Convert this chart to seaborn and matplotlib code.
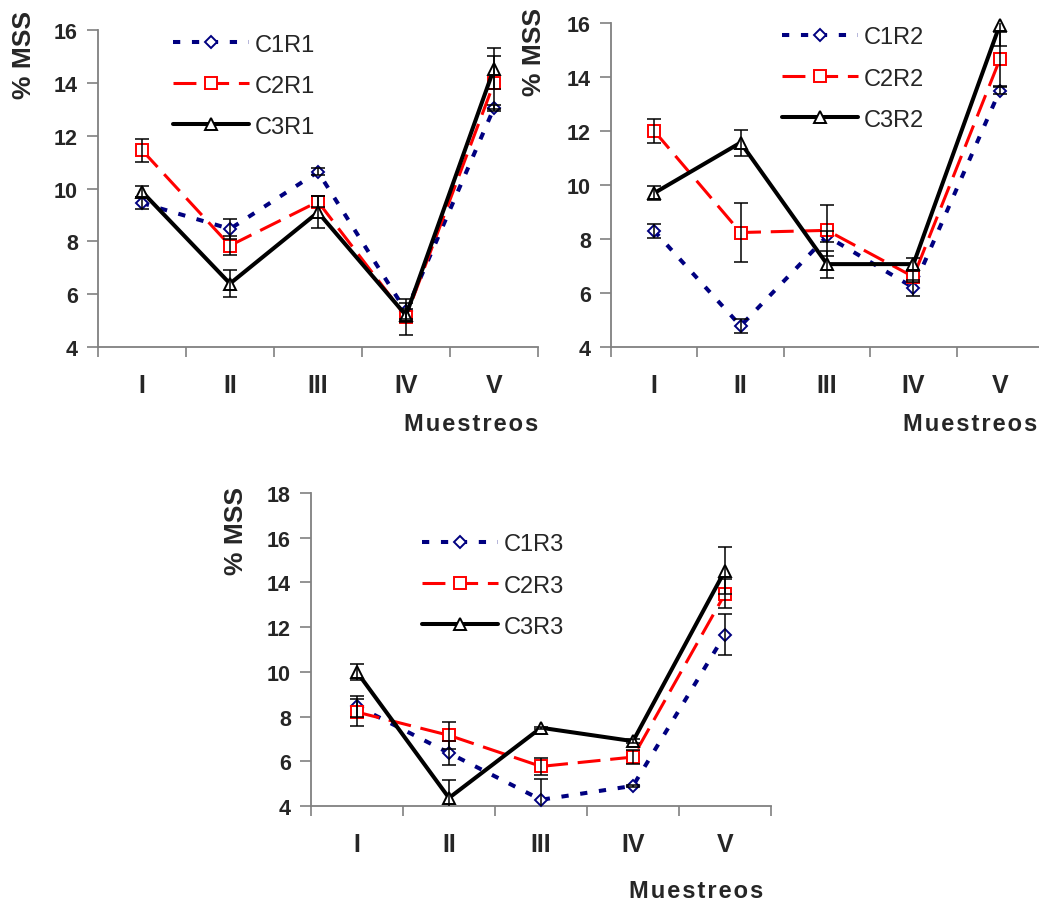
import numpy as np
import matplotlib
matplotlib.use("Agg")
import matplotlib.pyplot as plt
import seaborn as sns

# ---------------- data ----------------
muestreos = ["I", "II", "III", "IV", "V"]

labels_r1 = ["C1R1", "C2R1", "C3R1"]
c1r1 = [9.45, 8.47, 10.63, 5.35, 13.05]
c2r1 = [11.45, 7.84, 9.50, 5.15, 14.00]
c3r1 = [9.88, 6.40, 9.10, 5.20, 14.54]
c1r1_err = [0.23, 0.38, 0.13, 0.30, 0.10]
c2r1_err = [0.44, 0.35, 0.20, 0.68, 1.00]
c3r1_err = [0.22, 0.50, 0.60, 0.25, 0.79]

labels_r2 = ["C1R2", "C2R2", "C3R2"]
c1r2 = [8.30, 4.78, 8.10, 6.20, 13.50]
c2r2 = [12.00, 8.24, 8.32, 6.60, 14.65]
c3r2 = [9.70, 11.57, 7.07, 7.07, 15.93]
c1r2_err = [0.27, 0.25, 0.20, 0.30, 0.12]
c2r2_err = [0.43, 1.08, 0.95, 0.20, 1.00]
c3r2_err = [0.27, 0.48, 0.50, 0.22, 0.77]

labels_r3 = ["C1R3", "C2R3", "C3R3"]
c1r3 = [8.47, 6.37, 4.28, 4.90, 11.67]
c2r3 = [8.20, 7.16, 5.77, 6.19, 13.49]
c3r3 = [9.99, 4.36, 7.50, 6.90, 14.53]
c1r3_err = [0.47, 0.52, 0.94, 0.05, 0.90]
c2r3_err = [0.60, 0.59, 0.37, 0.30, 0.65]
c3r3_err = [0.37, 0.79, 0.05, 0.10, 1.05]

y_ticks_12 = [4, 6, 8, 10, 12, 14, 16]
y_ticks_3 = [4, 6, 8, 10, 12, 14, 16, 18]

ylabel_text = "% MSS"
xlabel_text = "Muestreos"

# ---------------- style ----------------
sns.set_theme(style="white")
plt.rcParams["font.family"] = ["Liberation Sans", "DejaVu Sans"]

W, H = 1039, 903
fig = plt.figure(figsize=(W / 100, H / 100), dpi=100)
fig.patch.set_facecolor("white")


def px_axes(left, right, top, bottom):
    return fig.add_axes([left / W, 1 - bottom / H, (right - left) / W, (bottom - top) / H])


styles = [
    dict(color="#000080", marker="D", ms=5.8, lw=2.9, ls=(0, (1.8, 2.9))),
    dict(color="#FF0000", marker="s", ms=8.0, lw=2.2, ls=(0, (7.5, 3.2))),
    dict(color="#000000", marker="^", ms=8.5, lw=2.9, ls="-"),
]

GRAY = "#808080"

panels = [
    dict(box=(98, 538, 31, 348), ylim=(4, 16), yt=y_ticks_12,
         series=[c1r1, c2r1, c3r1], errs=[c1r1_err, c2r1_err, c3r1_err], labels=labels_r1,
         leg=(173, 34.5), ylab=(24, 55), xlab=(538, 425, "right")),
    dict(box=(611, 1043, 24, 348), ylim=(4, 16), yt=y_ticks_12,
         series=[c1r2, c2r2, c3r2], errs=[c1r2_err, c2r2_err, c3r2_err], labels=labels_r2,
         leg=(782, 27.5), ylab=(534, 52), xlab=(1037, 425, "right")),
    dict(box=(311, 771, 494, 807), ylim=(4, 18), yt=y_ticks_3,
         series=[c1r3, c2r3, c3r3], errs=[c1r3_err, c2r3_err, c3r3_err], labels=labels_r3,
         leg=(422, 534.5), ylab=(236, 531), xlab=(763, 892, "right")),
]

xpos = np.arange(len(muestreos))

for p in panels:
    ax = px_axes(*p["box"])
    ax.set_facecolor("white")
    handles = []
    for k, (vals, errs, lab) in enumerate(zip(p["series"], p["errs"], p["labels"])):
        st = styles[k]
        sns.lineplot(x=xpos, y=vals, ax=ax, color=st["color"], marker=st["marker"],
                     ms=st["ms"], lw=st["lw"], linestyle=st["ls"],
                     mfc="white", mec=st["color"], mew=1.4,
                     label=lab, clip_on=False, zorder=3 + k, errorbar=None)
        handles.append(ax.lines[-1])
    for k, (vals, errs) in enumerate(zip(p["series"], p["errs"])):
        ax.errorbar(xpos, vals, yerr=errs, fmt="none", ecolor="black",
                    elinewidth=1.1, capsize=5, capthick=1.1, zorder=10)

    ax.set_xlim(-0.5, len(muestreos) - 0.5)
    ax.set_ylim(*p["ylim"])
    ax.set_yticks(p["yt"])
    ax.set_yticklabels([str(v) for v in p["yt"]], fontsize=15.5, fontweight="bold")
    ax.set_xticks(np.arange(-0.5, len(muestreos), 1.0))
    ax.set_xticklabels([])
    ax.set_xticks(xpos, minor=True)
    ax.set_xticklabels(muestreos, minor=True, fontsize=18, fontweight="bold")
    ax.tick_params(axis="x", which="major", direction="out", length=7, width=1.2,
                   color=GRAY, bottom=True)
    ax.tick_params(axis="x", which="minor", length=0, pad=19, bottom=True)
    ax.tick_params(axis="y", which="major", direction="out", length=8, width=1.2,
                   color=GRAY, pad=6.5, left=True)
    ax.set_xlabel("")
    ax.set_ylabel("")
    sns.despine(ax=ax)
    for side in ("left", "bottom"):
        ax.spines[side].set_color(GRAY)
        ax.spines[side].set_linewidth(1.3)
    ax.grid(False)

    lx, ly = p["leg"]
    ax.legend(handles, p["labels"], loc="upper left",
              bbox_to_anchor=(lx / W, 1 - ly / H), bbox_transform=fig.transFigure,
              frameon=False, fontsize=17, handlelength=3.2, handletextpad=0.25,
              labelspacing=0.81, borderpad=0, borderaxespad=0, numpoints=1)

    yx, yy = p["ylab"]
    fig.text(yx / W, 1 - yy / H, ylabel_text, rotation=90, ha="center", va="center",
             fontsize=19, fontweight="bold")
    mx, my, mha = p["xlab"]
    fig.text(mx / W, 1 - my / H, "\u200a".join(xlabel_text), ha=mha, va="center",
             fontsize=17, fontweight="bold")

fig.savefig("out.png", dpi=100, facecolor="white")
